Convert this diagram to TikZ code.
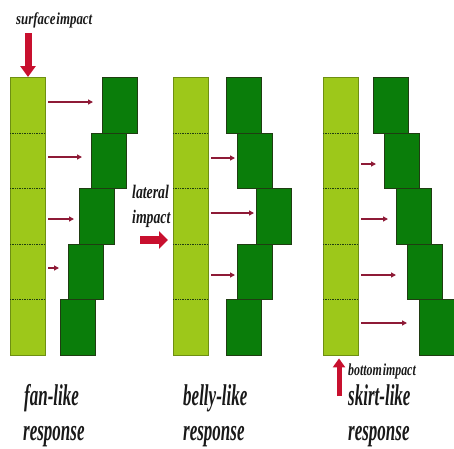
\documentclass[tikz,border=0pt]{standalone}
\usepackage{graphicx}
\usepackage{fontspec}
\setmainfont{Liberation Serif}
\usetikzlibrary{arrows.meta,calc}

\definecolor{lightg}{HTML}{9DC81A}
\definecolor{lightedge}{HTML}{6E8F12}
\definecolor{darkg}{HTML}{0A7D0A}
\definecolor{darkedge}{HTML}{1F3D12}
\definecolor{pushred}{HTML}{8E1A36}
\definecolor{bigred}{HTML}{C8102E}

% condensed bold italic lettering: #1 x-scale, #2 size, #3 text
\newcommand{\condbold}[3]{\scalebox{#1}[1.2]{\fontsize{#2}{#2}\selectfont\bfseries\itshape #3}}

\begin{document}
\begin{tikzpicture}[x=1pt,y=-1pt,
  seg/.style={rectangle,fill=lightg,draw=none,minimum width=35pt,minimum height=55.6pt,inner sep=0pt,anchor=north west},
  blk/.style={rectangle,fill=darkg,draw=darkedge,line width=0.8pt,minimum width=35pt,minimum height=55.6pt,inner sep=0pt,anchor=north west},
  colframe/.style={draw=lightedge,line width=0.8pt},
  divider/.style={draw=darkedge,line width=0.7pt,densely dotted},
  push/.style={draw=pushred,line width=1.6pt,-{Triangle[width=5pt,length=5pt]}},
  bigarrow/.style={draw=bigred,line width=#1},
  lbl/.style={inner sep=0pt,text=black!90}
]
\useasboundingbox (0,0) rectangle (454,448);

% light-green columns, five segments each
\foreach \p/\cx in {1/10,2/173,3/323}{
  \foreach \r in {1,...,5}{
    \node[seg] (s\p\r) at (\cx,{77+(\r-1)*55.6}) {};
  }
}
\foreach \p in {1,2,3}{
  \draw[colframe] (s\p1.north west) rectangle (s\p5.south east);
  \foreach \r in {1,...,4}{
    \draw[divider] (s\p\r.south west) -- (s\p\r.south east);
  }
}

% displaced dark-green blocks
\foreach \p/\r/\bx in {1/1/102,1/2/91,1/3/79,1/4/68,1/5/60,
                       2/1/226,2/2/237,2/3/256,2/4/237,2/5/226,
                       3/1/373,3/2/384,3/3/396,3/4/407,3/5/419}{
  \node[blk] (d\p\r) at (\bx,{77+(\r-1)*55.6}) {};
}

% displacement arrows
\foreach \p/\r/\yy/\g in {1/1/102/9,1/2/157/9,1/3/219/5,1/4/268/9,
                          2/2/158/2,2/3/213/2,2/4/275/2,
                          3/2/164/8,3/3/219/8,3/4/275/11,3/5/323/12}{
  \draw[push,shorten <=3pt,shorten >=\g pt] (s\p\r.east |- 0,\yy) -- (d\p\r.west |- 0,\yy);
}

% surface impact
\node[lbl,anchor=base west] (surf) at (16,24) {\condbold{0.92}{14}{surface\kern1pt impact}};
\coordinate (surffrom) at (28,33);
\draw[bigarrow=7pt,-{Triangle[width=15pt,length=11pt]}] (surffrom) -- (surffrom |- s11.north);

% lateral impact
\node[lbl,anchor=base west] (lat1) at (132,198) {\condbold{0.86}{16}{lateral}};
\node[lbl,anchor=base west] (lat2) at (132,223) {\condbold{0.86}{16}{impact}};
\coordinate (latfrom) at (140,240);
\draw[bigarrow=8pt,-{Triangle[width=17pt,length=9pt]},shorten >=5pt] (latfrom) -- (latfrom -| s23.west);

% bottom impact
\node[lbl,anchor=base west] (bot) at (348,375) {\condbold{0.85}{14}{bottom\kern1pt impact}};
\coordinate (botfrom) at (339,396);
\draw[bigarrow=5pt,-{Triangle[width=12pt,length=9pt]},shorten >=3pt] (botfrom) -- (botfrom |- s35.south);

% response captions
\node[lbl,anchor=base west] (fan)   at (24,405)  {\condbold{0.68}{25}{fan-like}};
\node[lbl,anchor=base west] (fanr)  at (23,440)  {\condbold{0.68}{25}{response}};
\node[lbl,anchor=base west] (bel)   at (183,405) {\condbold{0.68}{25}{belly-like}};
\node[lbl,anchor=base west] (belr)  at (183,440) {\condbold{0.68}{25}{response}};
\node[lbl,anchor=base west] (ski)   at (348,405) {\condbold{0.68}{25}{skirt-like}};
\node[lbl,anchor=base west] (skir)  at (348,440) {\condbold{0.68}{25}{response}};
\end{tikzpicture}
\end{document}
